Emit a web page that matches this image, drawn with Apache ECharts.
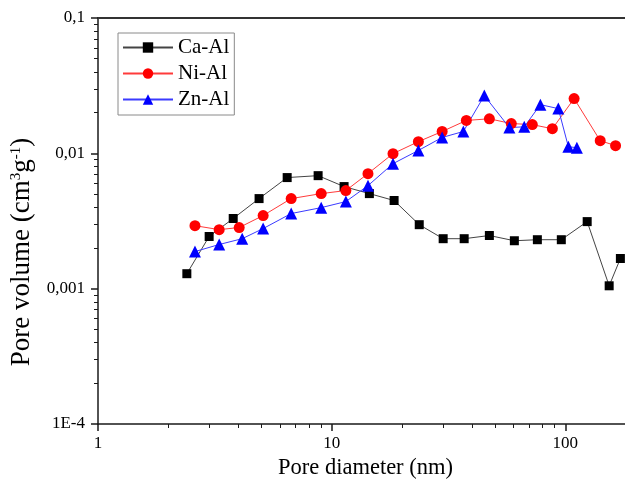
<!DOCTYPE html>
<html>
<head>
<meta charset="utf-8">
<script src="https://cdn.jsdelivr.net/npm/echarts@6/dist/echarts.min.js"></script>
<style>
  html, body { margin: 0; padding: 0; background: #fff; }
  #chart { width: 625px; height: 492px; }
</style>
</head>
<body>
<div id="chart"></div>
<script>
// Pore size distribution of the three mixed oxides (log-log)
const seriesNames = ['Ca-Al', 'Ni-Al', 'Zn-Al'];

const caAlDiameter = [2.40, 2.99, 3.79, 4.89, 6.45, 8.75, 11.3, 14.5, 18.5, 23.7, 30.0, 36.9, 47.3, 60.5, 75.9, 96.1, 124, 154, 172];
const caAlVolume   = [0.00129, 0.00243, 0.00330, 0.00463, 0.00662, 0.00684, 0.00568, 0.00504, 0.00448, 0.00297, 0.00234, 0.00234, 0.00247, 0.00226, 0.00230, 0.00230, 0.00313, 0.00105, 0.00167];

const niAlDiameter = [2.60, 3.30, 4.02, 5.09, 6.71, 9.02, 11.5, 14.3, 18.3, 23.5, 29.7, 37.7, 47.3, 58.7, 72.2, 88.0, 109, 141, 164];
const niAlVolume   = [0.00292, 0.00273, 0.00283, 0.00347, 0.00463, 0.00504, 0.00531, 0.00708, 0.00995, 0.0122, 0.0145, 0.0175, 0.0180, 0.0166, 0.0163, 0.0152, 0.0254, 0.0124, 0.0114];

const znAlDiameter = [2.60, 3.30, 4.14, 5.09, 6.71, 9.02, 11.5, 14.3, 18.3, 23.5, 29.7, 36.6, 45.0, 57.6, 66.7, 78.2, 93.3, 103, 112];
const znAlVolume   = [0.00188, 0.00212, 0.00234, 0.00278, 0.00359, 0.00397, 0.00440, 0.00577, 0.00839, 0.0105, 0.0131, 0.0145, 0.0267, 0.0155, 0.0157, 0.0229, 0.0214, 0.0112, 0.0110];

// axis ticks
const xMajorTicks = [1, 10, 100];
const xMinorTicks = [2, 3, 4, 5, 6, 7, 8, 9, 20, 30, 40, 50, 60, 70, 80, 90];
const yMajorTicks = [0.0001, 0.001, 0.01, 0.1];
const yTickLabels = ['1E-4', '0,001', '0,01', '0,1'];
const yMinorTicks = [0.0002, 0.0003, 0.0004, 0.0005, 0.0006, 0.0007, 0.0008, 0.0009,
                     0.002, 0.003, 0.004, 0.005, 0.006, 0.007, 0.008, 0.009,
                     0.02, 0.03, 0.04, 0.05, 0.06, 0.07, 0.08, 0.09];

const FONT = 'Liberation Serif, Times New Roman, serif';
const AXIS_COLOR = '#1a1a1a';
const X_MIN = 1, X_MAX = 180, Y_MIN = 0.0001, Y_MAX = 0.1;

function zip(xs, ys) { return xs.map((x, i) => [x, ys[i]]); }

function xLabel(v) {
  const e = Math.log10(v);
  if (Math.abs(e - Math.round(e)) > 1e-6) return '';
  return String(Math.round(v));
}
function yLabel(v) {
  const e = Math.round(Math.log10(v));
  const idx = yMajorTicks.findIndex(t => Math.round(Math.log10(t)) === e);
  return idx >= 0 ? yTickLabels[idx] : '';
}

const chart = echarts.init(document.getElementById('chart'), null, { renderer: 'canvas' });

chart.setOption({
  animation: false,
  backgroundColor: '#fff',
  grid: { left: 98, top: 18, right: 0, bottom: 68, containLabel: false },
  legend: {
    data: seriesNames,
    orient: 'vertical',
    left: 118,
    top: 33,
    backgroundColor: '#fff',
    borderColor: '#8a8a8a',
    borderWidth: 1,
    borderRadius: 0,
    padding: [4, 5, 5, 4],
    itemWidth: 50,
    itemHeight: 13,
    itemGap: 5,
    textStyle: { fontFamily: FONT, fontSize: 21, color: '#000' }
  },
  xAxis: [
    {
      type: 'log', logBase: 10, min: X_MIN, max: X_MAX, position: 'bottom',
      name: 'Pore diameter (nm)', nameLocation: 'middle', nameGap: 32,
      nameTextStyle: { fontFamily: FONT, fontSize: 22.5, color: '#000', padding: [0, 0, 0, 8] },
      axisLine: { show: true, lineStyle: { color: AXIS_COLOR, width: 1.5 } },
      axisTick: { show: true, inside: false, length: 7, customValues: xMajorTicks, lineStyle: { color: AXIS_COLOR, width: 1.5 } },
      axisLabel: { show: true, customValues: xMajorTicks, formatter: xLabel, margin: 11, fontFamily: FONT, fontSize: 17, color: '#000' },
      splitLine: { show: false }
    },
    {
      type: 'log', logBase: 10, min: X_MIN, max: X_MAX, position: 'bottom',
      axisLine: { show: false },
      axisTick: { show: true, inside: false, length: 4, customValues: xMinorTicks, lineStyle: { color: AXIS_COLOR, width: 1 } },
      axisLabel: { show: false },
      splitLine: { show: false }
    },
    {
      type: 'log', logBase: 10, min: X_MIN, max: X_MAX, position: 'top',
      axisLine: { show: true, lineStyle: { color: '#333', width: 2 } },
      axisTick: { show: false },
      axisLabel: { show: false },
      splitLine: { show: false }
    }
  ],
  yAxis: [
    {
      type: 'log', logBase: 10, min: Y_MIN, max: Y_MAX, position: 'left',
      name: 'Pore volume (cm{sup|3}g{sup|-1})', nameLocation: 'middle', nameRotate: 90, nameGap: 54,
      nameTextStyle: {
        fontFamily: FONT, fontSize: 27, color: '#000', padding: [0, 62, 0, 0],
        rich: { sup: { fontFamily: FONT, fontSize: 15, color: '#000', verticalAlign: 'top', padding: [0, 0, 10, 0] } }
      },
      axisLine: { show: true, lineStyle: { color: AXIS_COLOR, width: 1.5 } },
      axisTick: { show: true, inside: false, length: 7, customValues: yMajorTicks, lineStyle: { color: AXIS_COLOR, width: 1.5 } },
      axisLabel: { show: true, customValues: yMajorTicks, formatter: yLabel, margin: 13, fontFamily: FONT, fontSize: 17, color: '#000' },
      splitLine: { show: false }
    },
    {
      type: 'log', logBase: 10, min: Y_MIN, max: Y_MAX, position: 'left',
      axisLine: { show: false },
      axisTick: { show: true, inside: false, length: 4, customValues: yMinorTicks, lineStyle: { color: AXIS_COLOR, width: 1 } },
      axisLabel: { show: false },
      splitLine: { show: false }
    }
  ],
  series: [
    {
      name: 'Ca-Al', type: 'line', xAxisIndex: 0, yAxisIndex: 0,
      data: zip(caAlDiameter, caAlVolume),
      symbol: 'rect', symbolSize: 9,
      itemStyle: { color: '#000' },
      lineStyle: { color: '#444', width: 1 }
    },
    {
      name: 'Ni-Al', type: 'line', xAxisIndex: 0, yAxisIndex: 0,
      data: zip(niAlDiameter, niAlVolume),
      symbol: 'circle', symbolSize: 11,
      itemStyle: { color: '#ff0000' },
      lineStyle: { color: '#ff3b3b', width: 1 }
    },
    {
      name: 'Zn-Al', type: 'line', xAxisIndex: 0, yAxisIndex: 0,
      data: zip(znAlDiameter, znAlVolume),
      symbol: 'triangle', symbolSize: 12,
      itemStyle: { color: '#0000ff' },
      lineStyle: { color: '#3b3bff', width: 1 }
    }
  ]
});
</script>
</body>
</html>
